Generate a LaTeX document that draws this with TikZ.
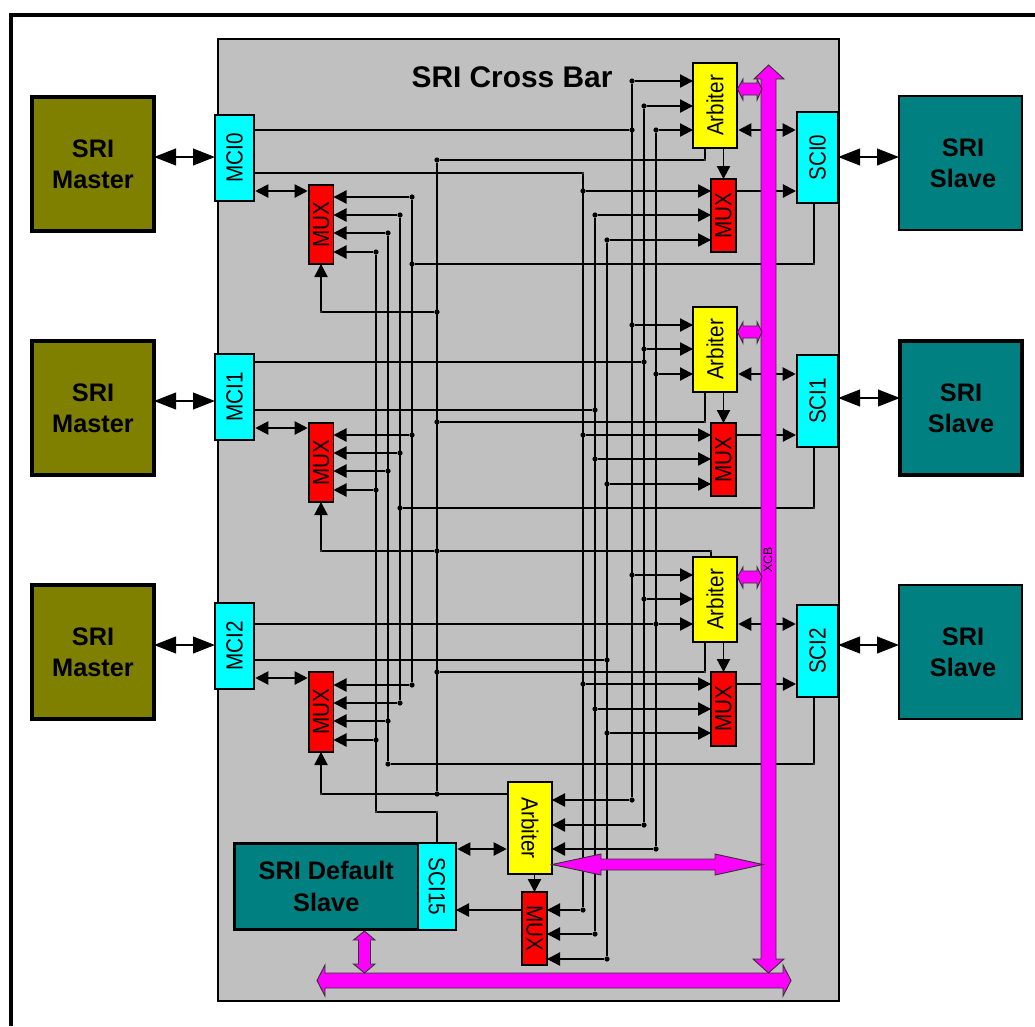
\documentclass[tikz,border=0pt]{standalone}
\usepackage{fontspec}
\setmainfont{Liberation Sans}
\usetikzlibrary{arrows.meta}
\definecolor{olivebox}{HTML}{808000}
\definecolor{tealbox}{HTML}{008080}
\definecolor{panelgrey}{HTML}{C0C0C0}
\definecolor{busedge}{HTML}{333333}
\definecolor{magentabus}{HTML}{FF00FF}
\definecolor{cyanbox}{HTML}{00FFFF}
\definecolor{yellowbox}{HTML}{FFFF00}
\definecolor{redbox}{HTML}{FF0000}
\tikzset{
  boxbase/.style={rectangle,draw=black,inner sep=0pt,outer sep=0pt,line width=0.9pt,text=black},
  masterbox/.style={boxbase,fill=olivebox,line width=3pt,align=center,font=\fontsize{19}{23.5}\selectfont\bfseries},
  slavebox/.style={boxbase,fill=tealbox,line width=2.2pt,align=center,font=\fontsize{19}{23.5}\selectfont\bfseries},
  thickslavebox/.style={slavebox,line width=3pt},
  defaultbox/.style={boxbase,fill=tealbox,line width=1.8pt,align=center,font=\fontsize{19}{23.5}\selectfont\bfseries},
  portbox/.style={boxbase,fill=cyanbox,font=\fontsize{15.5}{18}\selectfont},
  arbbox/.style={boxbase,fill=yellowbox,font=\fontsize{15.5}{18}\selectfont},
  muxbox/.style={boxbase,fill=redbox,font=\fontsize{15.5}{18}\selectfont},
  panelbox/.style={boxbase,fill=panelgrey,line width=1.2pt},
  jdot/.style={circle,fill=black,inner sep=0pt,outer sep=0pt,minimum size=3.9pt},
  kdot/.style={circle,fill=black,inner sep=0pt,outer sep=0pt,minimum size=1.6pt},
  wire/.style={line width=0.85pt,draw=black},
  oneway/.style={wire,-{Triangle[length=9.75pt,width=10pt]}},
  twoway/.style={wire,{Triangle[length=9.75pt,width=10pt]}-{Triangle[length=9.75pt,width=10pt]},shorten <=1pt,shorten >=1pt},
  bigway/.style={line width=1.5pt,draw=black,{Triangle[length=16.5pt,width=12.5pt]}-{Triangle[length=16.5pt,width=12.5pt]}},
  bus/.style={fill=magentabus,draw=busedge,line width=0.7pt,line join=miter},
  frameline/.style={line width=3pt,draw=black,line cap=butt}
}
\newcommand\bx[7]{%
  \pgfmathsetmacro\cxx{(#3+#5)/2}%
  \pgfmathsetmacro\cyy{(#4+#6)/2}%
  \pgfmathsetmacro\www{(#5-#3)*0.75}%
  \pgfmathsetmacro\hhh{(#6-#4)*0.75}%
  \node[#2,minimum width=\www pt,minimum height=\hhh pt] (#1) at (\cxx,\cyy) {#7};}
\newcommand\up[1]{\rotatebox{90}{\scalebox{1}[1.13]{#1}}}
\newcommand\dn[1]{\rotatebox{-90}{\scalebox{1}[1.13]{#1}}}
\newcommand\nudge{\hspace*{3.75pt}}
\newcommand\J[2]{\node[jdot] (j#1-#2) at (#1,#2) {};}
\newcommand\K[2]{\node[kdot] (k#1-#2) at (#1,#2) {};}
\begin{document}
\begin{tikzpicture}[x=0.75pt,y=-0.75pt]
\useasboundingbox (0,0) rectangle (1035,1026);
\coordinate (fa) at (1035,14.5);
\coordinate (fb) at (11,14.5);
\coordinate (fc) at (11,1026);
\draw[frameline] (fa) -- (fb) -- (fc);

\bx{panel}{panelbox}{218}{39}{839}{1001}{}
\node[font=\fontsize{22.4}{27}\selectfont\bfseries,inner sep=0pt] (title) at (512,77) {SRI Cross Bar};

% masters and slaves
\bx{master0}{masterbox}{32}{97}{154}{231}{SRI\\Master}
\bx{master1}{masterbox}{32}{341}{154}{475}{SRI\\Master}
\bx{master2}{masterbox}{32}{585}{154}{719}{SRI\\Master}
\bx{slave0}{slavebox}{899}{96}{1022}{230}{\nudge SRI\\\nudge Slave}
\bx{slave1}{thickslavebox}{900}{341}{1022}{475}{SRI\\Slave}
\bx{slave2}{slavebox}{899}{585}{1022}{719}{\nudge SRI\\\nudge Slave}
\bx{slave15}{defaultbox}{234.5}{843.5}{418}{929.5}{SRI Default\\Slave}

% ports
\bx{mci0}{portbox}{215}{115}{254}{201}{\up{MCI0}}
\bx{mci1}{portbox}{215}{354}{254}{440}{\up{MCI1}}
\bx{mci2}{portbox}{215}{603}{254}{689}{\up{MCI2}}
\bx{sci0}{portbox}{797}{112}{838}{203}{\up{SCI0}}
\bx{sci1}{portbox}{797}{355}{838}{447}{\up{SCI1}}
\bx{sci2}{portbox}{797}{605}{838}{697}{\up{SCI2}}
\bx{sci15}{portbox}{418}{843}{456}{930}{\dn{SCI15}}

% arbiters
\bx{arb0}{arbbox}{693}{63}{737}{148}{\up{Arbiter}}
\bx{arb1}{arbbox}{693}{307}{737}{392}{\up{Arbiter}}
\bx{arb2}{arbbox}{693}{557}{737}{642}{\up{Arbiter}}
\bx{arb15}{arbbox}{508}{782}{552}{874}{\dn{Arbiter}}

% multiplexers
\bx{mux0}{muxbox}{309}{185}{333.5}{264}{\up{MUX}}
\bx{mux1}{muxbox}{309}{423}{333.5}{502}{\up{MUX}}
\bx{mux2}{muxbox}{309}{672}{333.5}{752}{\up{MUX}}
\bx{mux0r}{muxbox}{711}{179}{736}{252}{\up{MUX}}
\bx{mux1r}{muxbox}{711}{423}{736}{496}{\up{MUX}}
\bx{mux2r}{muxbox}{711}{672}{736}{746}{\up{MUX}}
\bx{mux15}{muxbox}{522}{892}{547}{965}{\dn{MUX}}

% levels of connectors that end on a box side only
\coordinate (y157) at (0,157);
\coordinate (y401) at (0,401);
\coordinate (y398) at (0,398);
\coordinate (y645) at (0,645);
\coordinate (y191) at (0,191);
\coordinate (y428) at (0,428);
\coordinate (y678) at (0,678);

% junctions
\J{412}{197}\J{412}{264}\J{412}{435}\J{412}{685}
\J{400}{215}\J{400}{453}\J{400}{508}\J{400}{703}
\J{388}{233}\J{388}{471}\J{388}{721}\J{388}{764}
\J{376}{252}\J{376}{490}\J{376}{740}
\J{437}{160}\J{437}{312}\J{437}{422}\J{437}{551}\J{437}{672}\J{437}{794}
\J{583}{191}\J{583}{435}\J{583}{684}\J{583}{910}
\J{595}{215}\J{595}{410}\J{595}{459}\J{595}{709}\J{595}{934}
\J{607}{240}\J{607}{484}\J{607}{660}\J{607}{733}\J{607}{959}
\J{632}{81}\J{632}{130}\J{632}{325}\J{632}{575}\J{632}{800}
\J{644}{106}\J{644}{349}\J{644}{362}\J{644}{599}\J{644}{825}
\J{656}{130}\J{656}{374}\J{656}{624}\J{656}{849}
\K{376}{812}\K{437}{812}\K{583}{173}
\K{705}{160}\K{705}{422}\K{705}{672}\K{711}{551}
\K{814}{264}\K{814}{508}\K{814}{764}
\K{321}{312}\K{321}{551}\K{321}{794}

% vertical trunks
\draw[wire] (j412-197) -- (j412-685);
\draw[wire] (j400-215) -- (j400-703);
\draw[wire] (j388-233) -- (j388-764);
\draw[wire] (j376-252) -- (k376-812) -- (k437-812) -- (sci15.north -| k437-812);
\draw[wire] (j437-160) -- (j437-794);
\draw[wire] (k583-173) -- (j583-910);
\draw[wire] (j595-215) -- (j595-934);
\draw[wire] (j607-240) -- (j607-959);
\draw[wire] (j632-81) -- (j632-800);
\draw[wire] (j644-106) -- (j644-825);
\draw[wire] (j656-130) -- (j656-849);

% MCI outputs
\draw[wire] (mci0.east |- j632-130) -- (j632-130);
\draw[wire] (mci0.east |- k583-173) -- (k583-173);
\draw[wire] (mci1.east |- j644-362) -- (j644-362);
\draw[wire] (mci1.east |- j595-410) -- (j595-410);
\draw[wire] (mci2.east |- j656-624) -- (j656-624);
\draw[wire] (mci2.east |- j607-660) -- (j607-660);

% arbiter inputs
\foreach \a/\p/\q/\r in {arb0/81/106/130,arb1/325/349/374,arb2/575/599/624}{
  \draw[oneway] (j632-\p) -- (\a.west |- j632-\p);
  \draw[oneway] (j644-\q) -- (\a.west |- j644-\q);
  \draw[oneway] (j656-\r) -- (\a.west |- j656-\r);
}
\draw[oneway] (j632-800) -- (arb15.east |- j632-800);
\draw[oneway] (j644-825) -- (arb15.east |- j644-825);
\draw[oneway] (j656-849) -- (arb15.east |- j656-849);

% multiplexer inputs, right column
\foreach \m/\p/\q/\r in {mux0r/191/215/240,mux1r/435/459/484,mux2r/684/709/733}{
  \draw[oneway] (j583-\p) -- (\m.west |- j583-\p);
  \draw[oneway] (j595-\q) -- (\m.west |- j595-\q);
  \draw[oneway] (j607-\r) -- (\m.west |- j607-\r);
}
\draw[oneway] (j583-910) -- (mux15.east |- j583-910);
\draw[oneway] (j595-934) -- (mux15.east |- j595-934);
\draw[oneway] (j607-959) -- (mux15.east |- j607-959);

% multiplexer inputs, left column
\foreach \m/\p/\q/\r/\s in {mux0/197/215/233/252,mux1/435/453/471/490,mux2/685/703/721/740}{
  \draw[oneway] (j412-\p) -- (\m.east |- j412-\p);
  \draw[oneway] (j400-\q) -- (\m.east |- j400-\q);
  \draw[oneway] (j388-\r) -- (\m.east |- j388-\r);
  \draw[oneway] (j376-\s) -- (\m.east |- j376-\s);
}

% SCI returns
\draw[wire] (k814-264 |- sci0.south) -- (k814-264) -- (j412-264);
\draw[wire] (k814-508 |- sci1.south) -- (k814-508) -- (j400-508);
\draw[wire] (k814-764 |- sci2.south) -- (k814-764) -- (j388-764);

% arbiter selects
\draw[wire] (k705-160 |- arb0.south) -- (k705-160) -- (j437-160);
\draw[wire] (k705-422 |- arb1.south) -- (k705-422) -- (j437-422);
\draw[wire] (k705-672 |- arb2.south) -- (k705-672) -- (j437-672);
\draw[wire] (k711-551 |- arb2.north) -- (k711-551) -- (j437-551);
\draw[oneway] (j437-551) -- (k321-551) -- (mux1.south -| k321-551);
\draw[oneway] (j437-312) -- (k321-312) -- (mux0.south -| k321-312);
\draw[oneway] (arb15.west |- j437-794) -- (k321-794) -- (mux2.south -| k321-794);

\draw[oneway] (mux0r.north |- arb0.south) -- (mux0r.north);
\draw[oneway] (mux1r.north |- arb1.south) -- (mux1r.north);
\draw[oneway] (mux2r.north |- arb2.south) -- (mux2r.north);
\draw[oneway] (mux15.north |- arb15.south) -- (mux15.north);

% multiplexer outputs
\draw[oneway] (mux0r.east |- j583-191) -- ([xshift=-0.8pt]sci0.west |- j583-191);
\draw[oneway] (mux1r.east |- j583-435) -- ([xshift=-0.8pt]sci1.west |- j583-435);
\draw[oneway] (mux2r.east |- j583-684) -- ([xshift=-0.8pt]sci2.west |- j583-684);
\draw[oneway] (mux15.west |- j583-910) -- (sci15.east |- j583-910);

% two-way links
\draw[twoway] (arb0.east |- j656-130) -- (sci0.west |- j656-130);
\draw[twoway] (arb1.east |- j656-374) -- (sci1.west |- j656-374);
\draw[twoway] (arb2.east |- j656-624) -- (sci2.west |- j656-624);
\draw[twoway] (sci15.east |- j656-849) -- (arb15.west |- j656-849);
\draw[twoway] (mci0.east |- y191) -- (mux0.west |- y191);
\draw[twoway] (mci1.east |- y428) -- (mux1.west |- y428);
\draw[twoway] (mci2.east |- y678) -- (mux2.west |- y678);

% external links
\draw[bigway] (master0.east |- y157) -- (mci0.west |- y157);
\draw[bigway] (master1.east |- y401) -- (mci1.west |- y401);
\draw[bigway] (master2.east |- y645) -- (mci2.west |- y645);
\draw[bigway] (sci0.east |- y157) -- (slave0.west |- y157);
\draw[bigway] (sci1.east |- y398) -- (slave1.west |- y398);
\draw[bigway] (sci2.east |- y645) -- (slave2.west |- y645);

% buses
\draw[bus] (317,980.5) -- (325,965) -- (325,973) -- (783,973) -- (783,965) -- (791,980.5) -- (783,996) -- (783,988) -- (325,988) -- (325,996) -- cycle;
\draw[bus] (768.5,65) -- (784,79) -- (776,79) -- (776,959) -- (784,959) -- (768.5,973) -- (753,959) -- (761,959) -- (761,79) -- (754,79) -- cycle;
\draw[bus] (552,864.5) -- (601,854) -- (601,859) -- (715,859) -- (715,854) -- (763,864.5) -- (715,875) -- (715,870) -- (601,870) -- (601,875) -- cycle;
\draw[bus] (364.5,931) -- (375,940) -- (370.5,940) -- (370.5,964) -- (375,964) -- (364.5,973) -- (353.5,964) -- (358.5,964) -- (358.5,940) -- (353.5,940) -- cycle;
\draw[bus] (737.5,89) -- (743,79) -- (743,83) -- (757,83) -- (757,79) -- (762,89) -- (757,100) -- (757,95) -- (743,95) -- (743,100) -- cycle;
\draw[bus] (737.5,332) -- (743,322) -- (743,326) -- (757,326) -- (757,322) -- (762,332) -- (757,343) -- (757,338) -- (743,338) -- (743,343) -- cycle;
\draw[bus] (737.5,577) -- (743,567) -- (743,571) -- (757,571) -- (757,567) -- (762,577) -- (757,588) -- (757,583) -- (743,583) -- (743,588) -- cycle;
\node[font=\fontsize{9.2}{11}\selectfont,inner sep=0pt,rotate=90] (xcb) at (768,560) {XCB};
\end{tikzpicture}
\end{document}
